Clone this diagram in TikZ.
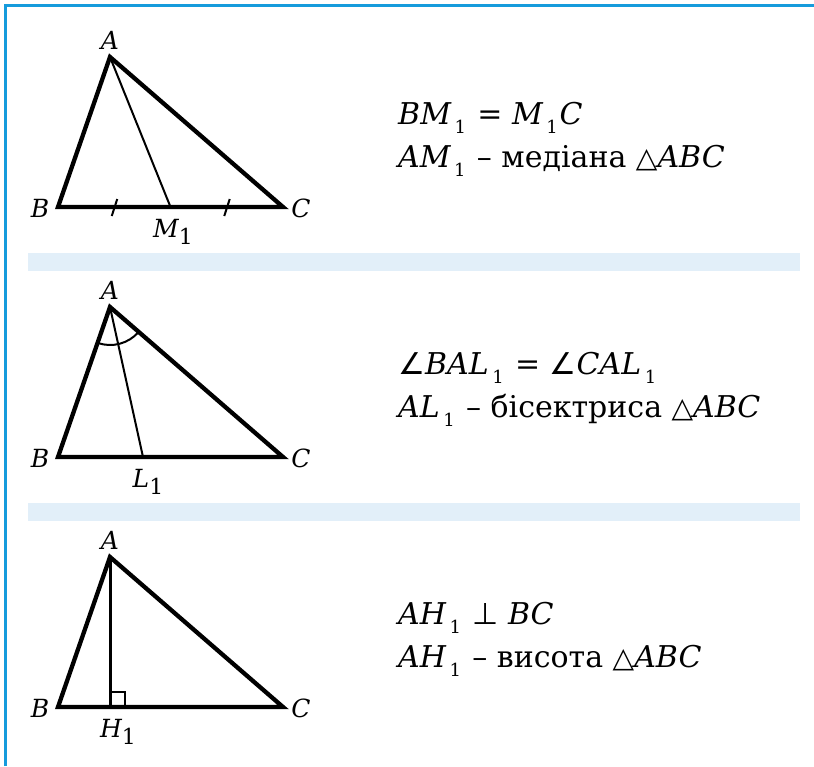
\documentclass[tikz,border=0pt]{standalone}
\usepackage{fontspec}
\setmainfont{DejaVu Serif}
\newfontfamily\symf{DejaVu Sans}
\usetikzlibrary{angles,calc}
\definecolor{frameblue}{RGB}{22,155,220}
\definecolor{bandblue}{RGB}{226,239,249}
\newcommand\sbr[1]{\hspace{0.12em}\raisebox{-0.32em}{\fontsize{18}{18}\selectfont #1}\hspace{0.06em}}
\newcommand\lsb[1]{\raisebox{-0.28em}{\fontsize{22}{22}\selectfont #1}}
\newcommand\tri{{\symf\fontsize{28}{28}\selectfont △}}
\newcommand\ang{{\symf ∠}}
\newcommand\perpen{{\symf ⊥}}
\begin{document}
\begin{tikzpicture}[x=1pt,y=-1pt,
  frame/.style={draw=frameblue,line width=3pt},
  band/.style={fill=bandblue},
  tri/.style={line width=4.3pt,line join=miter},
  cev/.style={line width=2pt},
  alt/.style={line width=3pt},
  tick/.style={line width=2pt},
  lbl/.style={font=\fontsize{25}{25}\selectfont\itshape,inner sep=0pt},
  eq/.style={font=\fontsize{30}{30}\selectfont,inner sep=0pt,anchor=base west}]
\useasboundingbox (0,0) rectangle (814,766);
\draw[frame] (5,766) -- (5,5) -- (814,5);
\fill[band] (28,253) rectangle (800,271);
\fill[band] (28,503) rectangle (800,521);

% ---------- triangle 1: median ----------
\coordinate (A1) at (110,57);
\coordinate (B1) at (58,207);
\coordinate (C1) at (283,207);
\coordinate (M1) at (170.5,207);
\draw[cev] (A1) -- (M1);
\draw[tri] (A1) -- (B1) -- (C1) -- cycle;
\coordinate (T1) at ($(B1)!0.5!(M1)$);
\coordinate (T2) at ($(M1)!0.5!(C1)$);
\draw[tick] ($(T1)+(3,-8)$) -- ($(T1)+(-2.5,9)$);
\draw[tick] ($(T2)+(3,-8)$) -- ($(T2)+(-2.5,9)$);
\node[lbl] (lA1) at (110,40) {A};
\node[lbl] (lB1) at (40,208) {B};
\node[lbl] (lC1) at (301,208) {C};
\node[lbl] (lM1) at (173,232) {M\lsb{\upshape 1}};
\node[eq] (e11) at (398,124) {\itshape BM\sbr{\upshape 1} \upshape= \itshape M\sbr{\upshape 1}C};
\node[eq] (e12) at (398,167) {\itshape AM\sbr{\upshape 1} \upshape– медіана \tri\itshape ABC};

% ---------- triangle 2: bisector ----------
\coordinate (A2) at (110,307);
\coordinate (B2) at (58,457);
\coordinate (C2) at (283,457);
\coordinate (L2) at (143,457);
\draw[cev] (A2) -- (L2);
\draw[tri] (A2) -- (B2) -- (C2) -- cycle;
\pic[draw,line width=2pt,angle radius=38pt] {angle = B2--A2--C2};
\node[lbl] (lA2) at (110,290) {A};
\node[lbl] (lB2) at (40,458) {B};
\node[lbl] (lC2) at (301,458) {C};
\node[lbl] (lL2) at (148,482) {L\lsb{\upshape 1}};
\node[eq] (e21) at (398,374) {\ang\itshape BAL\sbr{\upshape 1} \upshape= \ang\itshape CAL\sbr{\upshape 1}};
\node[eq] (e22) at (398,417) {\itshape AL\sbr{\upshape 1} \upshape– бісектриса \tri\itshape ABC};

% ---------- triangle 3: altitude ----------
\coordinate (A3) at (110,557);
\coordinate (B3) at (58,707);
\coordinate (C3) at (283,707);
\coordinate (H3) at (110,707);
\draw[alt] (A3) -- (H3);
\draw[line width=1.8pt] (110,692) -- (125,692) -- (125,707);
\draw[tri] (A3) -- (B3) -- (C3) -- cycle;
\node[lbl] (lA3) at (110,540) {A};
\node[lbl] (lB3) at (40,708) {B};
\node[lbl] (lC3) at (301,708) {C};
\node[lbl] (lH3) at (118,732) {H\lsb{\upshape 1}};
\node[eq] (e31) at (398,624) {\itshape AH\sbr{\upshape 1} \upshape\perpen\ \itshape BC};
\node[eq] (e32) at (398,667) {\itshape AH\sbr{\upshape 1} \upshape– висота \tri\itshape ABC};
\end{tikzpicture}
\end{document}
